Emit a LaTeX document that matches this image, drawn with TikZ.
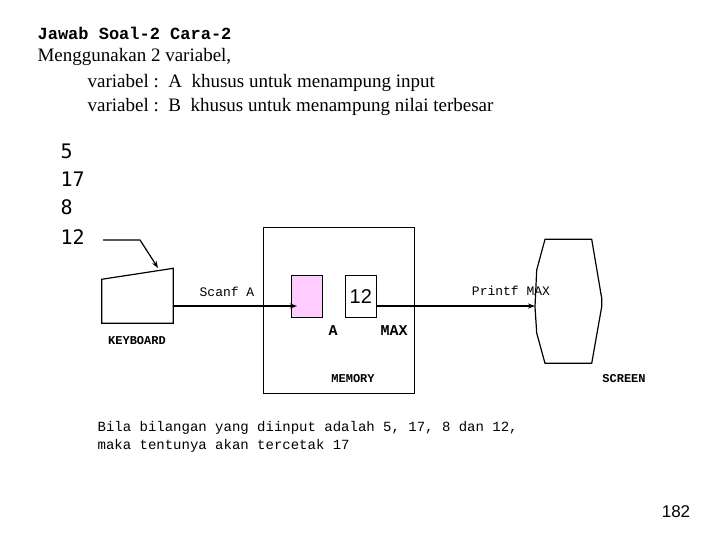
\documentclass[tikz,border=0pt]{standalone}
\usepackage{fontspec}
\usetikzlibrary{arrows.meta}
\setmainfont{Liberation Serif}
\newfontfamily\cour{Liberation Mono}
\newfontfamily\num{DejaVu Sans Mono}
\newfontfamily\arl{Liberation Sans}
\begin{document}
\begin{tikzpicture}[x=1pt,y=-1pt,line width=1.2pt,
  lbl/.style={font=\cour\fontsize{13}{15}\selectfont,inner sep=0pt},
  conn/.style={-{Stealth[length=7pt,width=5pt]}}]
\useasboundingbox[fill=white] (0,0) rectangle (720,540);
\node[anchor=west,inner sep=0pt,font=\cour\bfseries\fontsize{17}{19}\selectfont] (t1) at (37,33) {Jawab Soal-2 Cara-2};
\node[anchor=west,inner sep=0pt,font=\fontsize{19}{21}\selectfont] (t2) at (37,57) {Menggunakan 2 variabel,};
\node[anchor=west,inner sep=0pt,font=\fontsize{19}{21}\selectfont] (t3) at (87,83) {variabel :\ \ A\ \ khusus untuk menampung input};
\node[anchor=west,inner sep=0pt,font=\fontsize{19}{21}\selectfont] (t4) at (87,107) {variabel :\ \ B\ \ khusus untuk menampung nilai terbesar};
\foreach \v/\y/\n in {5/151/n1,17/179/n2,8/207/n3,12/237/n4}
  \node[anchor=west,inner sep=0pt,font=\num\fontsize{20}{22}\selectfont] (\n) at (60,\y) {\v};
% keyboard
\draw (101.7,279.3) -- (173.3,268.3) -- (173.3,323.3) -- (101.7,323.3) -- cycle;
\coordinate (kbR) at (173.3,306);
\coordinate (kbIn) at (158,268);
\coordinate (c1) at (103,240);
\coordinate (c2) at (140,240);
\draw[conn] (c1) -- (c2) -- (kbIn);
\node[lbl,font=\cour\bfseries\fontsize{12}{14}\selectfont] (kb) at (137,341) {KEYBOARD};
% memory
\draw[line width=0.8pt] (263.3,227.3) rectangle (414.3,393.3);
\node[draw,line width=0.8pt,fill={rgb,255:red,255;green,204;blue,255},minimum width=31.7pt,minimum height=42.3pt,inner sep=0pt] (A) at (306.8,296.2) {};
\node[draw,line width=0.8pt,minimum width=31.7pt,minimum height=42.3pt,inner sep=0pt,font=\arl\fontsize{20}{22}\selectfont] (M) at (360.8,296.2) {12};
\node[lbl,font=\cour\bfseries\fontsize{15}{17}\selectfont] (la) at (333,331) {A};
\node[lbl,font=\cour\bfseries\fontsize{15}{17}\selectfont] (lm) at (394,331) {MAX};
\node[lbl,font=\cour\bfseries\fontsize{12}{14}\selectfont] (mem) at (353,379) {MEMORY};
\coordinate (aIn) at (297,306);
\draw[conn] (kbR) -- (aIn);
\node[lbl] (sc) at (227,292) {Scanf A};
% screen
\draw (545,239.3) -- (591.7,239.3) -- (601.7,298.3) -- (601.7,306.7) -- (591.7,363.3) -- (545,363.3) -- (536.7,333) -- (535,306.7) -- (536.7,270) -- cycle;
\coordinate (mOut) at (376.6,306);
\coordinate (sIn) at (535,306);
\draw[conn] (mOut) -- (sIn);
\node[lbl] (pr) at (511,291) {Printf MAX};
\node[lbl,font=\cour\bfseries\fontsize{12}{14}\selectfont] (scr) at (624,379) {SCREEN};
% bottom text
\node[anchor=west,inner sep=0pt,font=\cour\fontsize{14}{16}\selectfont] (b1) at (97,428) {Bila bilangan yang diinput adalah 5, 17, 8 dan 12,};
\node[anchor=west,inner sep=0pt,font=\cour\fontsize{14}{16}\selectfont] (b2) at (97,446) {maka tentunya akan tercetak 17};
\node[inner sep=0pt,font=\arl\fontsize{17}{19}\selectfont] (pg) at (676,512) {182};
\end{tikzpicture}
\end{document}
